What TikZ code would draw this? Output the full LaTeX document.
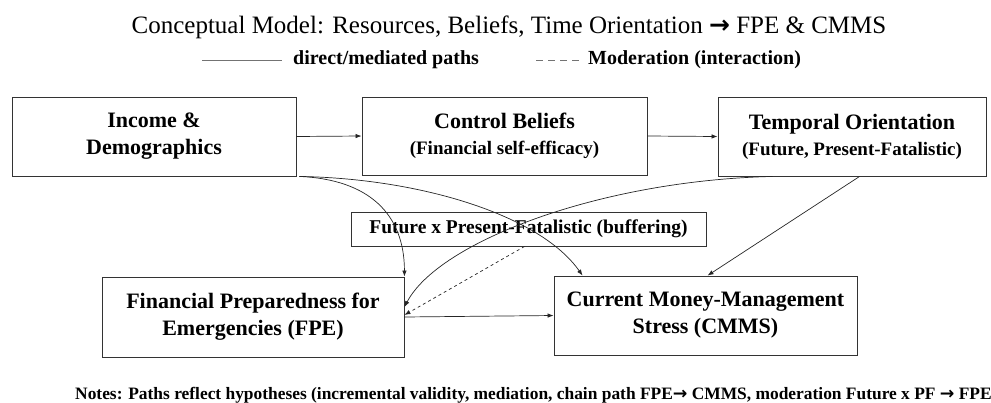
\documentclass[tikz,border=0pt]{standalone}
\usepackage{fontspec}
\setmainfont{Liberation Serif}
\newfontfamily\arrowfont{DejaVu Sans}
\usetikzlibrary{arrows.meta,calc}
\begin{document}
\begin{tikzpicture}[x=1pt,y=-1pt,
  box/.style={draw=black!80, line width=0.9pt, inner sep=0pt, align=center,
    font=\bfseries\fontsize{22}{27}\selectfont},
  link/.style={draw=black!85, line width=0.7pt, -{Latex[length=6pt,width=4.5pt]}},
  legendline/.style={draw=black!55, line width=0.8pt},
  legendtext/.style={anchor=west, inner sep=0pt, font=\bfseries\fontsize{20}{24}\selectfont}
  ]
\useasboundingbox (0,0) rectangle (991,402);

\node[inner sep=0pt, font=\fontsize{25}{29}\selectfont] (title) at (509,27) {Conceptual Model: Resources, Beliefs, Time Orientation {\arrowfont\bfseries →} FPE \& CMMS};

\coordinate (l1a) at (202,60);
\coordinate (l1b) at (282,60);
\draw[legendline] (l1a) -- (l1b);
\node[legendtext] (l1t) at (293,60) {direct/mediated paths};
\coordinate (l2a) at (536,60);
\coordinate (l2b) at (584,60);
\draw[legendline, dash pattern=on 7pt off 5pt] (l2a) -- (l2b);
\node[legendtext] (l2t) at (588,60) {Moderation (interaction)};

\node[box, minimum width=284pt, minimum height=79pt] (inc) at (154,136.5) {Income \&\\Demographics};
\node[box, minimum width=285pt, minimum height=78pt] (ctrl) at (504.5,136) {Control Beliefs\\[-1pt]{\fontsize{19}{23}\selectfont (Financial self-efficacy)}};
\node[box, minimum width=268pt, minimum height=79pt] (temp) at (852,136.5) {Temporal Orientation\\[-1pt]{\fontsize{19}{23}\selectfont (Future, Present-Fatalistic)}};
\node[box, minimum width=355pt, minimum height=34pt, font=\bfseries\fontsize{19.5}{23}\selectfont] (fut) at (528.5,229) {Future x Present-Fatalistic (buffering)};
\node[box, minimum width=302pt, minimum height=80pt] (fpe) at (253,317) {Financial Preparedness for\\Emergencies (FPE)};
\node[box, minimum width=303pt, minimum height=79pt] (cmms) at (705.5,315.5) {Current Money-Management\\Stress (CMMS)};

\draw[link] (inc.east) -- (ctrl.west);
\draw[link] (ctrl.east) -- (temp.west);
\draw[link] ([xshift=3pt]inc.south east) .. controls +(70,3) and +(0,-62) .. (fpe.north east);
\draw[link] ([xshift=3pt]inc.south east) .. controls +(120,2) and +(-43,-61) .. ($(cmms.north west)+(29,0)$);
\draw[link] ($(temp.south west)+(55,0)$) .. controls +(-173,4) and +(34,-65) .. ([yshift=10pt]fpe.east);
\draw[link] ($(temp.south west)+(142,0)$) -- ($(cmms.north west)+(154,0)$);
\draw[link, dashed] ($(fut.south west)+(174,0)$) -- ([yshift=2pt]fpe.east);
\draw[link] (fpe.east) -- (cmms.west);

\node[anchor=base west, inner sep=0pt, font=\bfseries\fontsize{17.4}{20}\selectfont] (notes) at (75,399) {Notes: Paths reflect hypotheses (incremental validity, mediation, chain path FPE{\arrowfont\bfseries →} CMMS, moderation Future x PF {\arrowfont\bfseries →} FPE};
\end{tikzpicture}
\end{document}
